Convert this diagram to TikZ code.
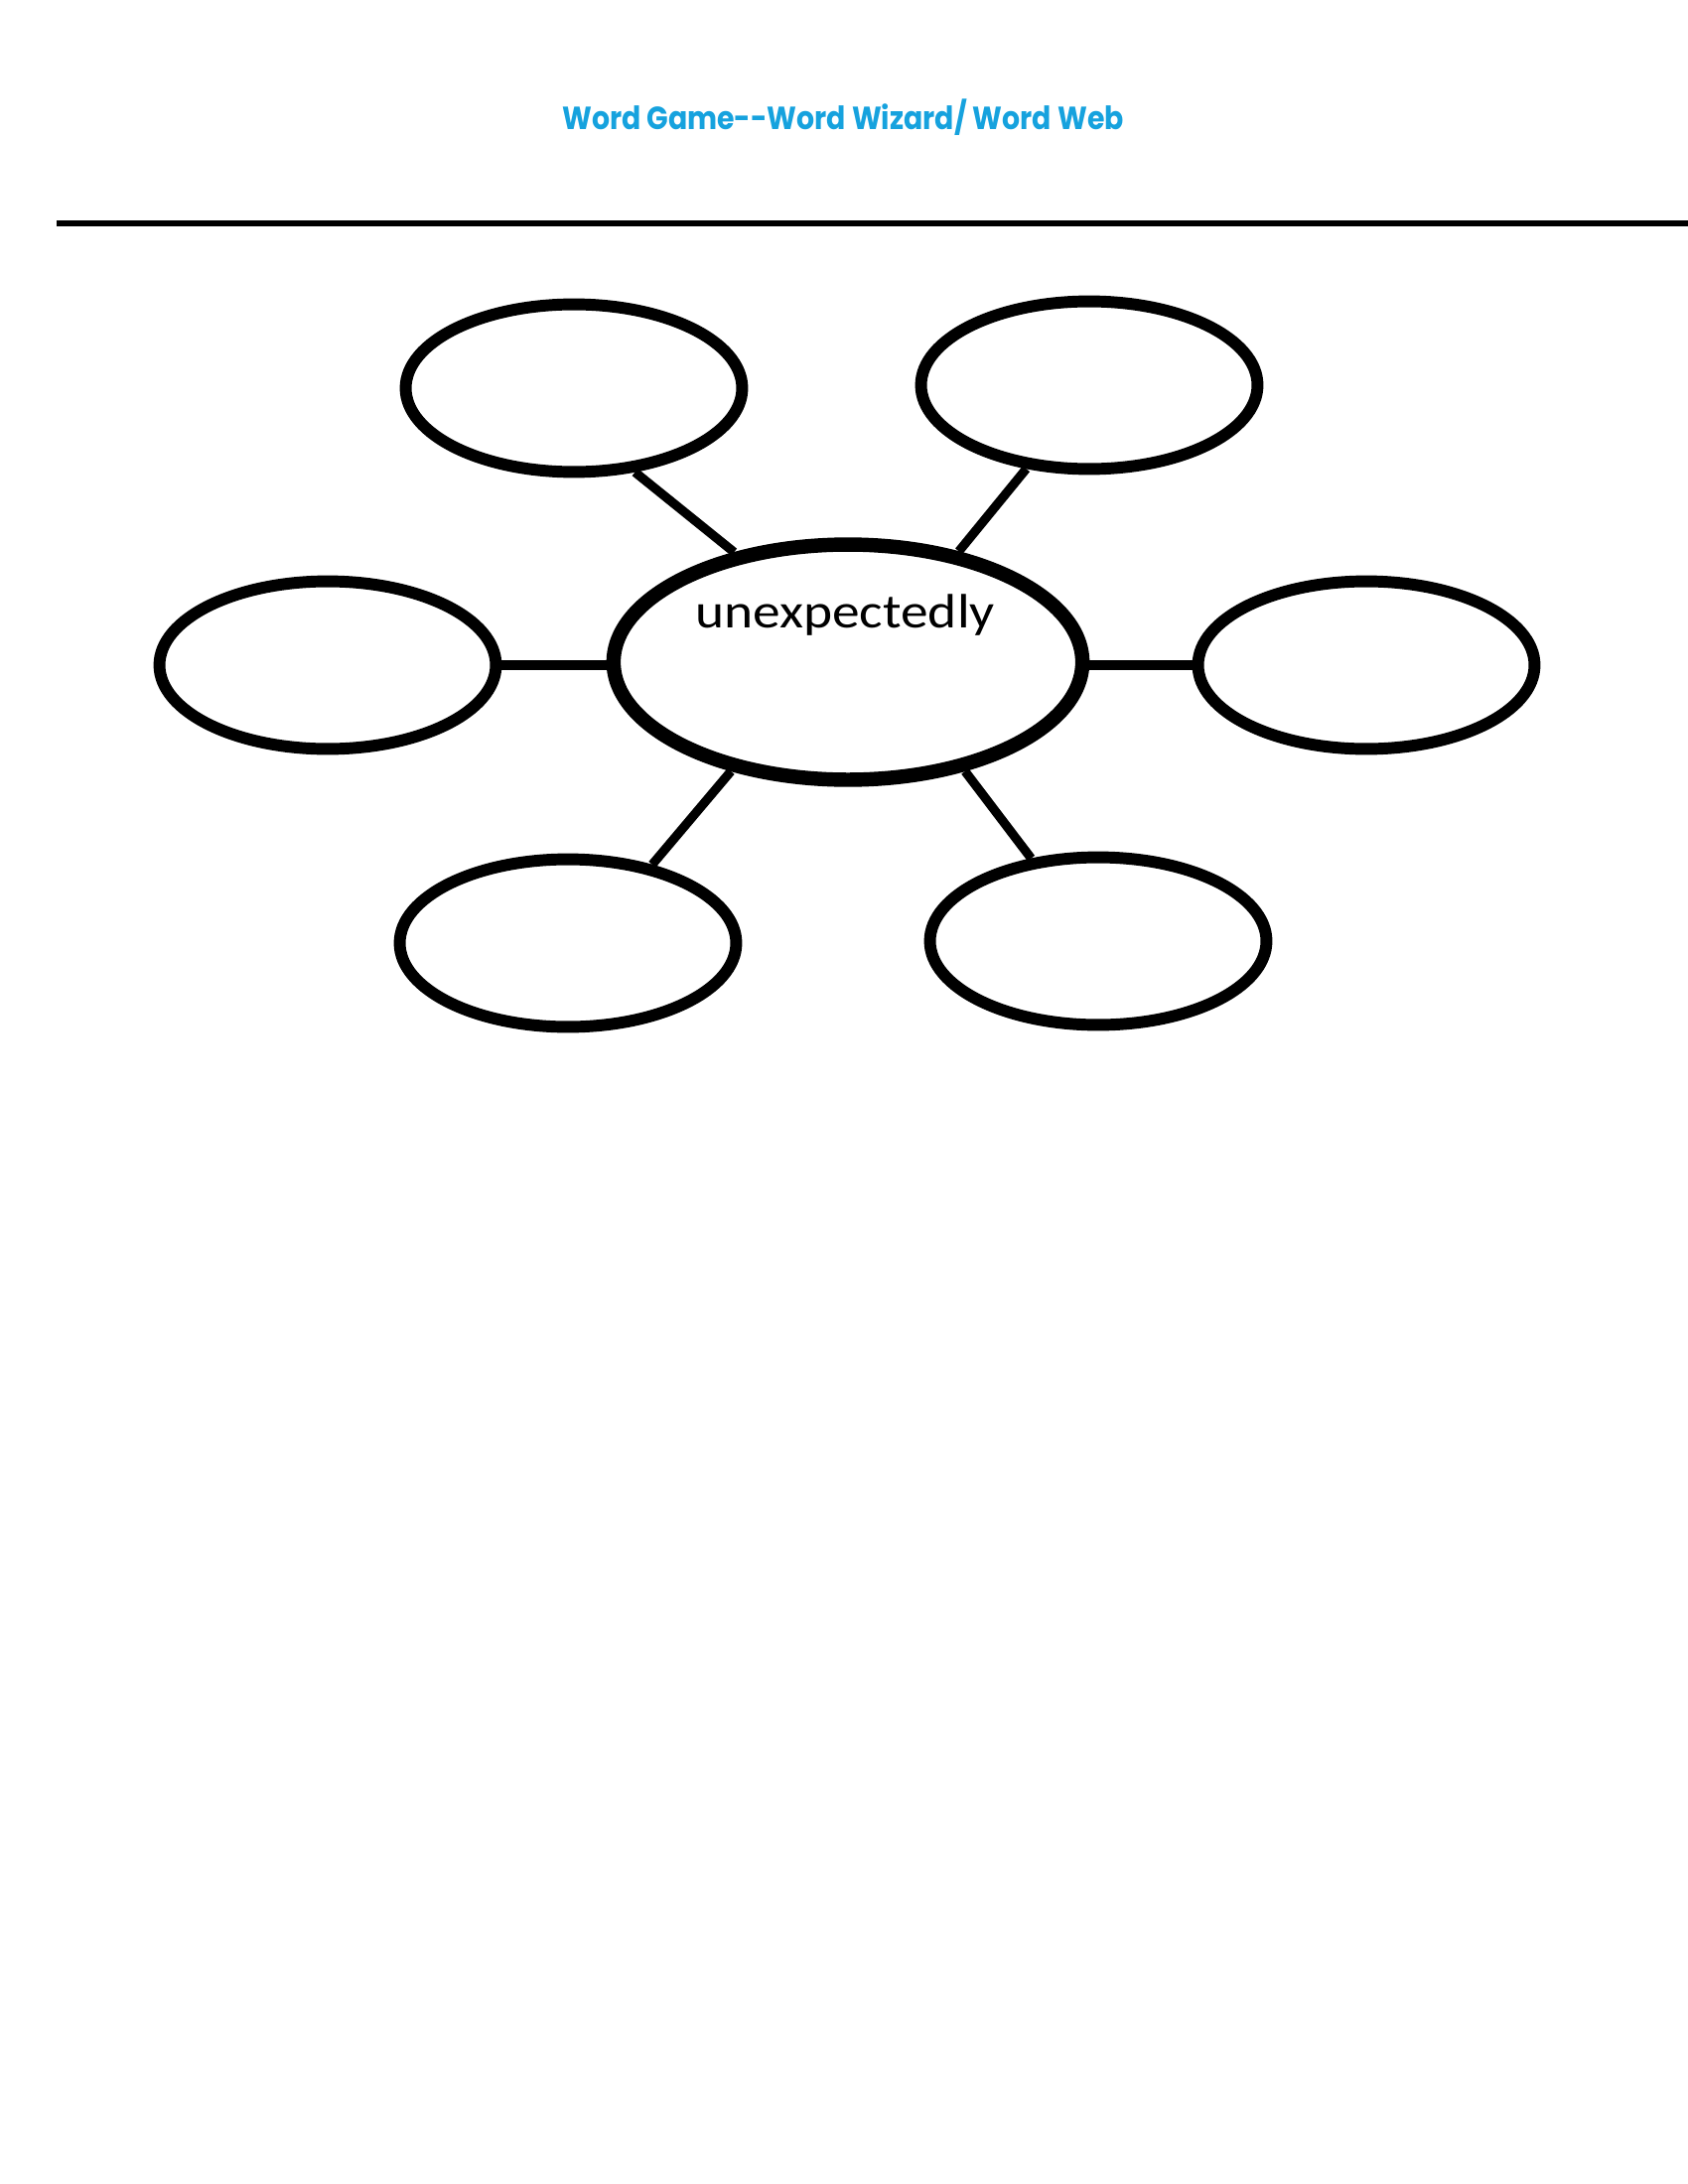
\documentclass[tikz,border=0pt]{standalone}
\usepackage{fontspec}
\usepackage{graphicx}
\usetikzlibrary{shapes.geometric}
\newfontfamily\titlefont{Poppins}
\newfontfamily\wordfont{Carlito}
\definecolor{titleblue}{RGB}{22,162,222}
\tikzset{
  leaf/.style={ellipse, draw=black, fill=white, line width=4.3pt, minimum width=122pt, minimum height=60.8pt, inner sep=0pt},
  hub/.style={ellipse, draw=black, fill=white, line width=5.2pt, minimum width=170pt, minimum height=85.3pt, inner sep=0pt},
  link/.style={draw=black, line width=3.3pt},
  rule/.style={draw=black, line width=2.2pt},
  titletext/.style={font=\titlefont\bfseries\fontsize{11.6}{14}\selectfont, text=titleblue, inner sep=0pt},
  wordtext/.style={font=\wordfont\fontsize{17.5}{20}\selectfont, text=black, inner sep=0pt}
}
\begin{document}
\begin{tikzpicture}[x=0.36pt,y=-0.36pt]
\useasboundingbox (0,0) rectangle (1700,2200);
\fill[white] (0,0) rectangle (1700,2200);
\node[titletext, anchor=base] (title) at (849,131) {\scalebox{0.88}[1]{Word Game--Word Wizard/ Word Web}};
\coordinate (r1) at (57,225);
\coordinate (r2) at (1700,225);
\draw[rule] (r1) -- (r2);
\node[leaf] (tl) at (578,391) {};
\node[leaf] (tr) at (1097,388) {};
\node[leaf] (l) at (330,670) {};
\node[leaf] (r) at (1376,670) {};
\node[leaf] (bl) at (572,950) {};
\node[leaf] (br) at (1106,948) {};
\node[hub] (c) at (854,667) {};
\draw[link] (tl.-54.5) -- (c.136);
\draw[link] (tr.-127) -- (c.45.6);
\draw[link] (l.east) -- (l.east -| c.west);
\draw[link] (r.west) -- (r.west -| c.east);
\draw[link] (bl.43) -- (c.-137);
\draw[link] (br.129.7) -- (c.-43.6);
\node[wordtext, anchor=base] (word) at (851,632) {\scalebox{1.14}[1]{unexpectedly}};
\end{tikzpicture}
\end{document}
